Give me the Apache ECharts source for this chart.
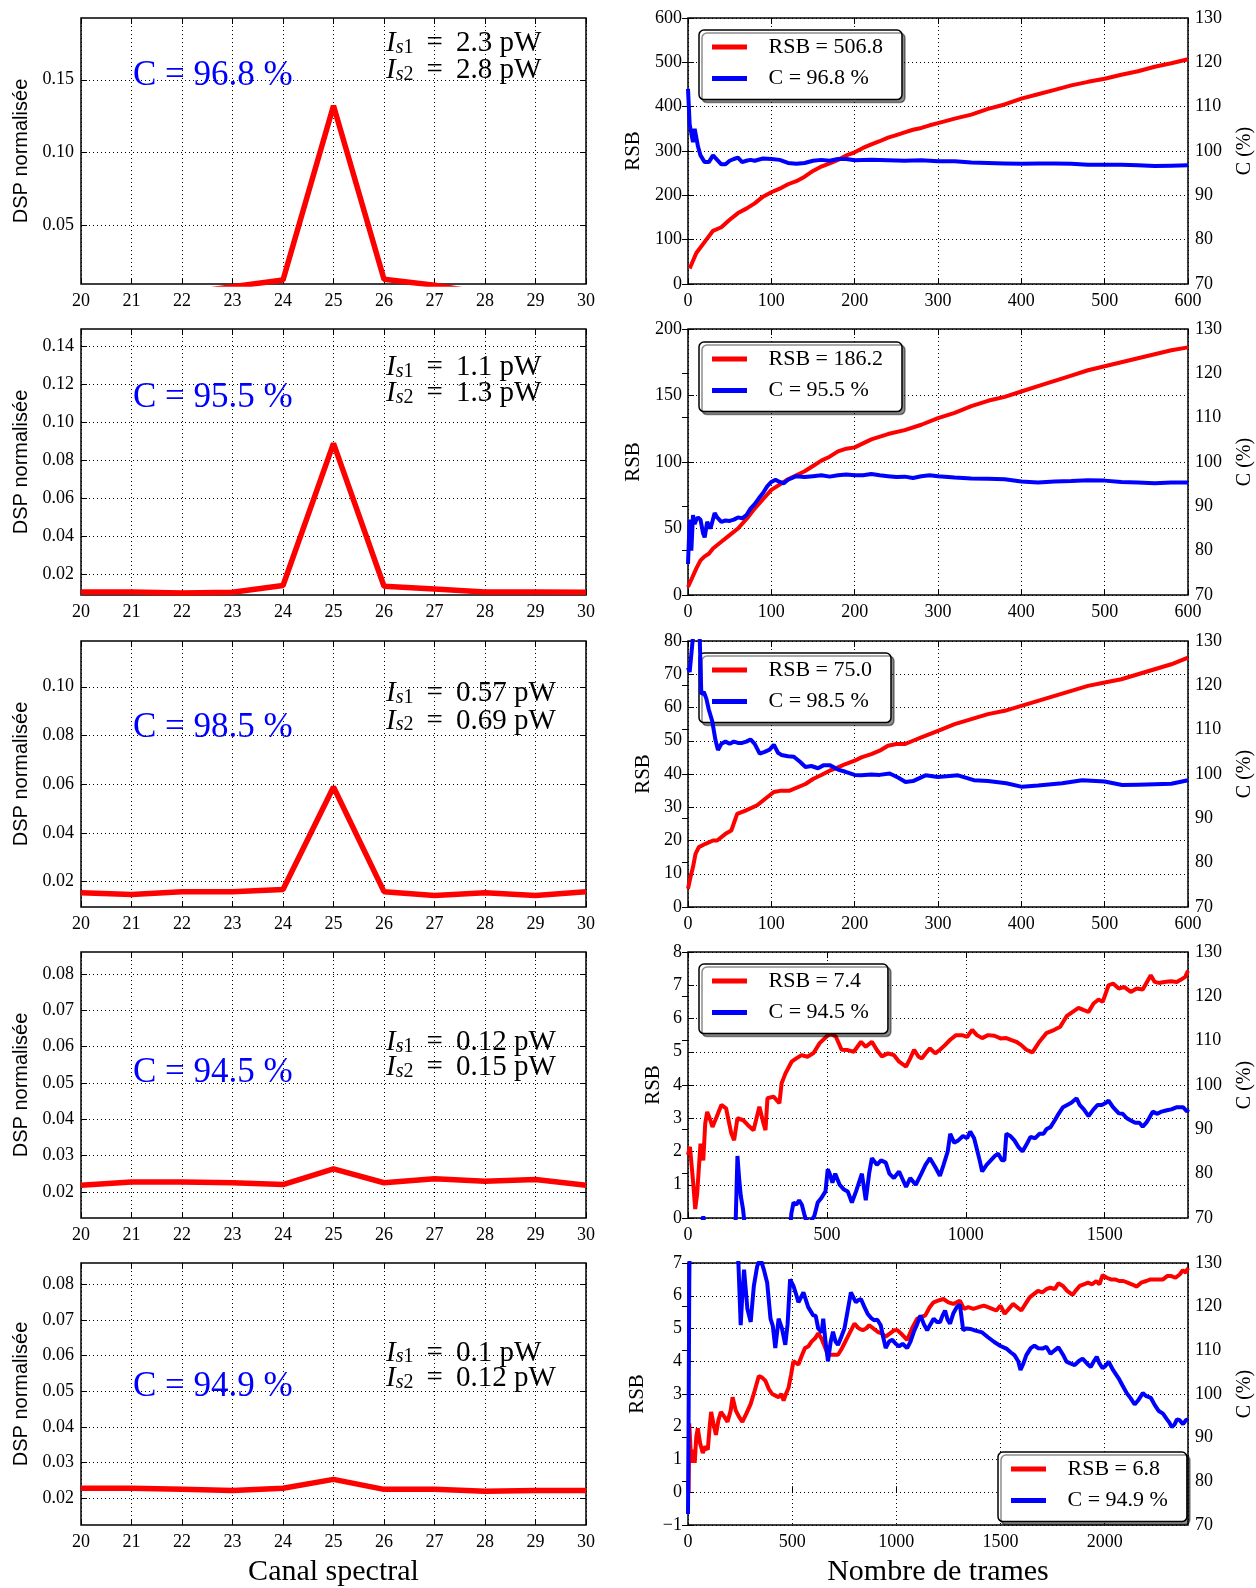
<!DOCTYPE html>
<html><head><meta charset="utf-8">
<script src="https://cdn.jsdelivr.net/npm/echarts@6/dist/echarts.min.js"></script>
<style>html,body{margin:0;padding:0;background:#fff}#c{width:1256px;height:1588px}</style>
</head><body><div id="c"></div><script>
// ---------------- DATA ----------------
const channels = [20,21,22,23,24,25,26,27,28,29,30];
const dsp1 = [0.0030,0.0031,0.0030,0.0080,0.0125,0.1322,0.0130,0.0090,0.0032,0.0030,0.0031];
const dsp2 = [0.0105,0.0105,0.0100,0.0104,0.0139,0.0888,0.0135,0.0121,0.0105,0.0105,0.0104];
const dsp3 = [0.0154,0.0146,0.0158,0.0158,0.0167,0.0588,0.0158,0.0142,0.0154,0.0142,0.0158];
const dsp4 = [0.0218,0.0227,0.0227,0.0225,0.0220,0.0263,0.0225,0.0236,0.0229,0.0234,0.0218];
const dsp5 = [0.0228,0.0228,0.0225,0.0222,0.0228,0.0253,0.0225,0.0225,0.0220,0.0222,0.0222];
const dspMin = [0.0098,0.0089,0.0095,0.0128,0.0125];
const dspMax = [0.1924,0.149,0.1188,0.086,0.086];
const dspTicks1 = [0.05,0.10,0.15];
const dspTicks2 = [0.02,0.04,0.06,0.08,0.10,0.12,0.14];
const dspTicks3 = [0.02,0.04,0.06,0.08,0.10];
const dspTicks4 = [0.02,0.03,0.04,0.05,0.06,0.07,0.08];
const dspTicks5 = [0.02,0.03,0.04,0.05,0.06,0.07,0.08];

const annotC = ['C = 96.8 %','C = 95.5 %','C = 98.5 %','C = 94.5 %','C = 94.9 %'];
const annotIs1 = ['2.3','1.1','0.57','0.12','0.1'];
const annotIs2 = ['2.8','1.3','0.69','0.15','0.12'];
const rsbLegend = ['RSB = 506.8','RSB = 186.2','RSB = 75.0','RSB = 7.4','RSB = 6.8'];
const cLegend = ['C = 96.8 %','C = 95.5 %','C = 98.5 %','C = 94.5 %','C = 94.9 %'];

const frameMax = [600,600,600,1800,2400];
const frameStep = [100,100,100,500,500];
const rsbMin = [0,0,0,0,-1];
const rsbMax = [600,200,80,8,7];
const rsbStep = [100,50,10,1,1];
const cRange = [70,130,10];

const rsb1 = [[2,35],[10,70],[20,95],[30,120],[40,128],[50,145],[60,160],[70,170],[80,182],[90,197],[100,207],[110,215],[120,225],[130,232],[140,242],[150,255],[160,265],[170,272],[180,280],[190,290],[200,297],[210,307],[220,315],[230,322],[240,330],[250,336],[260,342],[270,348],[280,352],[290,358],[300,363],[320,373],[340,382],[360,395],[380,405],[400,418],[420,428],[440,438],[460,448],[480,456],[500,463],[520,472],[540,480],[560,490],[580,498],[600,507]];
const c1 = [[0,114],[2,106],[4,104],[6,102],[8,105],[10,105],[12,101],[15,99],[20,97.5],[25,97.5],[30,99],[35,98],[40,97],[45,97],[50,97.8],[55,98.2],[60,98.5],[65,97.5],[70,97.8],[75,98],[80,97.8],[90,98.3],[100,98.2],[110,98],[120,97.3],[130,97.1],[140,97.3],[150,97.8],[160,98],[170,97.8],[180,98.2],[190,98.2],[200,97.9],[220,98],[240,97.9],[260,97.8],[280,97.9],[300,97.7],[320,97.7],[340,97.4],[360,97.3],[380,97.2],[400,97.1],[420,97.2],[440,97.2],[460,97.1],[480,96.9],[500,96.9],[520,96.9],[540,96.8],[560,96.6],[580,96.7],[600,96.8]];
const rsb2 = [[0,6],[5,13],[10,20],[15,26],[20,29],[25,31],[30,35],[40,40],[50,45],[60,50],[70,57],[80,65],[90,72],[100,79],[110,83],[120,87],[130,90],[140,93],[150,97],[160,101],[170,104],[180,108],[190,110],[200,111],[220,117],[240,121],[260,124],[280,128],[300,133],[320,137],[340,142],[360,146],[380,149],[400,153],[420,157],[440,161],[460,165],[480,169],[500,172],[520,175],[540,178],[560,181],[580,184],[600,186.2]];
const c2 = [[0,77],[2,87],[4,80],[6,88],[8,86],[10,87],[12,87.5],[15,87],[18,84],[20,83],[23,86.5],[27,85],[32,88.5],[35,87.5],[40,86.5],[45,86.8],[50,86.7],[55,87],[60,87.5],[65,87.3],[70,88],[75,89.5],[80,90.5],[85,91.8],[90,93],[95,94.5],[100,95.5],[105,96],[110,95.5],[115,95.2],[120,96],[130,96.8],[140,96.6],[150,96.8],[160,97],[170,96.7],[180,97],[190,97.2],[200,97],[210,97],[220,97.3],[230,97],[240,96.8],[250,96.6],[260,96.7],[270,96.4],[280,96.8],[290,97],[300,96.8],[320,96.5],[340,96.3],[360,96.2],[380,96.1],[400,95.6],[420,95.4],[440,95.6],[460,95.7],[480,95.9],[500,95.8],[520,95.5],[540,95.4],[560,95.2],[580,95.4],[600,95.4]];
const rsb3 = [[0,5.5],[3,9],[6,12],[9,16],[13,18],[21,19],[30,20],[35,20],[45,22],[52,23],[59,28],[69,29],[83,30.6],[95,33],[103,34.6],[112,35],[122,35],[141,37],[150,38.5],[160,39.7],[170,41],[180,42],[189,43],[200,44],[208,45],[220,46],[230,47],[240,48.5],[250,49],[260,49],[270,50],[280,51],[290,52],[300,53],[320,55],[340,56.5],[360,58],[380,59],[400,60.5],[420,62],[440,63.5],[460,65],[480,66.5],[500,67.5],[520,68.5],[540,70],[560,71.5],[580,73],[600,75]];
const c3 = [[0,124],[2,123],[4,127],[6,131],[10,131],[14,131],[16,118],[19,118.5],[22,117],[25,114.5],[29,112],[33,107.6],[36,105.4],[40,106.8],[45,107.3],[50,106.8],[55,107.3],[60,107],[65,107],[70,107.3],[75,107.8],[80,106.8],[86,104.6],[92,105],[98,105.5],[103,106.6],[108,104.8],[112,104.3],[120,104],[127,103.9],[134,102.8],[141,101.6],[148,101.8],[156,101.3],[163,102],[170,102],[180,101],[189,100.5],[200,99.8],[208,99.7],[220,99.9],[230,99.8],[242,100.1],[252,99.2],[261,98.2],[270,98.4],[285,99.7],[300,99.3],[324,99.7],[343,98.6],[360,98.4],[382,97.9],[401,97.1],[420,97.4],[449,97.9],[473,98.6],[500,98.3],[521,97.5],[540,97.6],[560,97.7],[580,97.8],[600,98.6]];
const rsb4 = [[0,1.9],[7,2.14],[19,1.03],[26,0.27],[33,0.73],[45,2.24],[55,1.73],[62,2.84],[69,3.19],[78,3.0],[88,2.74],[103,3.04],[120,3.4],[137,3.3],[156,2.54],[166,2.34],[178,3.0],[199,2.94],[215,2.8],[236,2.64],[257,3.35],[270,2.9],[279,2.64],[286,3.6],[308,3.65],[329,3.45],[337,4.05],[351,4.35],[373,4.7],[390,4.8],[409,4.9],[430,4.85],[452,4.96],[474,5.26],[499,5.46],[515,5.55],[532,5.46],[553,5.06],[575,5.05],[597,5.0],[623,5.3],[640,5.15],[662,5.3],[680,5.05],[698,4.86],[720,4.95],[741,4.9],[760,4.7],[785,4.55],[800,4.8],[814,5.06],[830,4.85],[842,4.8],[860,5.0],[871,5.1],[890,4.95],[907,5.06],[925,5.2],[944,5.36],[965,5.5],[987,5.5],[1005,5.45],[1023,5.66],[1040,5.5],[1059,5.41],[1080,5.5],[1103,5.48],[1125,5.4],[1146,5.41],[1165,5.35],[1182,5.3],[1200,5.2],[1218,5.06],[1240,4.98],[1265,5.3],[1290,5.56],[1319,5.66],[1340,5.75],[1363,6.07],[1385,6.2],[1406,6.32],[1425,6.25],[1442,6.2],[1460,6.45],[1478,6.57],[1493,6.5],[1514,7.0],[1530,7.05],[1551,6.9],[1570,6.95],[1594,6.8],[1615,6.9],[1637,6.87],[1666,7.3],[1680,7.1],[1695,7.07],[1715,7.1],[1738,7.12],[1760,7.1],[1775,7.17],[1790,7.25],[1800,7.43]];
const c4 = [[0,55],[30,60],[50,68],[55,70.4],[60,68],[100,60],[160,62],[172,70],[178,84],[184,79],[190,75],[198,72],[205,68],[215,60],[300,58],[365,65],[372,71],[380,73.5],[390,73],[400,74],[410,73],[418,71],[425,69.5],[440,69],[455,70.5],[467,73.5],[480,74.5],[495,76],[503,81],[510,80],[520,78],[530,80],[546,77.5],[560,76.5],[575,76],[590,73.5],[605,76],[626,80],[640,74],[652,80],[662,83.5],[680,82],[695,83],[712,82.5],[725,80],[741,79],[760,80.5],[785,77],[800,79],[820,77.5],[840,80],[855,82],[871,83.5],[890,81.5],[907,79.5],[920,82],[935,85],[944,89],[958,87],[973,87.5],[990,88.5],[1005,88],[1016,89.5],[1030,88],[1038,86],[1050,83],[1059,80.5],[1075,82],[1090,83],[1105,84],[1117,84.5],[1130,83],[1139,83],[1146,89],[1160,88.5],[1175,87.5],[1190,86],[1204,85],[1218,86.5],[1233,88.3],[1250,88],[1265,89],[1280,89],[1290,90],[1305,90.5],[1320,92],[1334,93.5],[1350,95],[1365,95.5],[1380,96],[1399,97],[1410,95.5],[1425,94.5],[1442,93],[1460,94.5],[1475,95.5],[1490,95.5],[1505,96],[1514,96.5],[1530,95],[1551,93.6],[1565,93.5],[1580,92.5],[1594,92],[1610,91.5],[1625,91.5],[1637,90.6],[1650,91.5],[1660,92.5],[1673,94],[1690,93.5],[1705,94],[1724,94.3],[1740,94.5],[1760,95],[1782,95],[1797,94],[1800,94.5]];
const rsb5 = [[0,0.3],[3,0.0],[6,2.1],[10,1.6],[16,0.9],[24,1.3],[32,0.9],[40,1.7],[47,1.95],[58,1.5],[71,1.2],[83,1.4],[95,1.3],[104,2.0],[111,2.45],[122,2.1],[134,1.75],[146,2.2],[158,2.45],[175,2.3],[190,2.15],[205,2.5],[214,2.9],[229,2.5],[245,2.3],[261,2.15],[280,2.4],[301,2.7],[320,3.1],[340,3.55],[356,3.5],[372,3.4],[388,3.15],[404,3.0],[420,2.95],[435,2.9],[448,3.0],[459,2.8],[470,3.0],[483,3.2],[495,3.6],[506,4.0],[518,3.95],[530,3.9],[545,4.15],[561,4.4],[577,4.45],[593,4.6],[610,4.7],[625,4.85],[640,4.7],[656,4.45],[672,4.2],[695,4.2],[720,4.2],[735,4.35],[751,4.55],[775,4.85],[799,5.15],[820,5.0],[839,4.95],[855,5.0],[870,5.1],[890,5.0],[910,4.9],[930,4.85],[949,4.75],[970,4.85],[990,4.95],[1005,4.95],[1030,4.8],[1052,4.65],[1075,5.0],[1100,5.3],[1120,5.35],[1139,5.4],[1160,5.65],[1179,5.8],[1200,5.85],[1226,5.9],[1250,5.8],[1274,5.75],[1290,5.8],[1305,5.85],[1325,5.6],[1345,5.65],[1370,5.6],[1395,5.65],[1420,5.7],[1440,5.65],[1460,5.6],[1480,5.55],[1500,5.7],[1520,5.45],[1540,5.6],[1560,5.75],[1580,5.65],[1600,5.55],[1620,5.75],[1640,5.95],[1660,6.05],[1680,6.15],[1700,6.1],[1720,6.2],[1740,6.25],[1760,6.2],[1778,6.38],[1800,6.3],[1820,6.15],[1846,6.03],[1860,6.15],[1880,6.3],[1900,6.35],[1920,6.4],[1940,6.35],[1960,6.45],[1975,6.35],[1990,6.63],[2010,6.55],[2030,6.5],[2050,6.5],[2070,6.45],[2090,6.45],[2110,6.4],[2130,6.35],[2154,6.28],[2175,6.4],[2200,6.45],[2220,6.5],[2240,6.5],[2260,6.5],[2280,6.5],[2300,6.6],[2320,6.6],[2340,6.55],[2360,6.65],[2375,6.78],[2390,6.7],[2400,6.85]];
const c5 = [[0,72.5],[3,95],[6,125],[8,135],[60,140],[150,142],[230,136],[242,130],[253,115.75],[260,122],[269,128.5],[285,119.5],[301,116.5],[316,124.7],[332,129.25],[348,131],[364,128.5],[380,125.5],[396,117.25],[407,115.6],[419,110.5],[435,117.25],[451,115],[467,111.25],[478,116],[490,126.25],[506,124.75],[518,123],[530,121],[554,123.25],[577,119.9],[601,118],[613,117.9],[625,115],[642,114.1],[649,117.25],[660,112],[672,107.5],[685,112],[696,114.25],[708,112],[720,111.25],[735,113],[751,115],[766,119],[782,123.25],[806,121],[818,121.5],[830,121.75],[846,120],[862,118.4],[877,117.5],[893,116.9],[909,117],[925,115.75],[937,113],[949,110.5],[965,112],[981,112.4],[997,111.5],[1013,110.9],[1030,111.5],[1052,110.5],[1068,112],[1084,114.25],[1100,116],[1116,118],[1132,116],[1148,114.6],[1164,116],[1179,117.25],[1195,116.5],[1210,116.5],[1222,118],[1234,119.1],[1246,117],[1258,116.1],[1274,118.5],[1290,119.9],[1305,120.5],[1321,114.6],[1335,115],[1355,114.9],[1380,114.5],[1412,114.1],[1440,113],[1470,111.9],[1500,111],[1528,110.4],[1550,109.5],[1567,108.9],[1585,107.5],[1596,105.5],[1610,107],[1624,108.9],[1645,110.5],[1663,111.1],[1680,110.5],[1701,110.4],[1720,110.8],[1740,109.2],[1760,110],[1778,110.7],[1800,109],[1817,107.4],[1835,107],[1856,106.6],[1875,107.5],[1894,108.1],[1915,107],[1933,106.2],[1948,107.5],[1962,108.5],[1975,107],[1990,105.9],[2005,106.5],[2019,107.4],[2040,105.5],[2067,103.6],[2085,102],[2106,100.2],[2125,99],[2144,97.6],[2160,98.5],[2183,100.2],[2200,99.5],[2222,99.1],[2240,97.5],[2260,96.1],[2280,95.5],[2299,94.2],[2310,93.5],[2322,92.4],[2335,93],[2347,94.2],[2360,94],[2376,93.1],[2390,94],[2400,94.2]];

// ---------------- LAYOUT ----------------
const dspAll = [dsp1,dsp2,dsp3,dsp4,dsp5];
const dspTicksAll = [dspTicks1,dspTicks2,dspTicks3,dspTicks4,dspTicks5];
const rsbAll = [rsb1,rsb2,rsb3,rsb4,rsb5];
const cAll = [c1,c2,c3,c4,c5];

const SERIF = 'Liberation Serif';
const rowTops = [18, 329, 641, 952, 1263];
const ROW_H = 266;
const LEFT_X = 81, RIGHT_X = 688, PLOT_W = 505;
const cTextY = [76, 398, 728, 1073, 1387];
const iTextY = [[43.5,70.5],[367.5,393.5],[693.5,721],[1042.5,1067.5],[1353,1378.5]];
const legendPos = [[699,30],[699,342],[699,653],[699,964],[998,1452]];
const rsbNameGap = [44,44,34,24,40];

const grid = [], xAxis = [], yAxis = [], series = [], legend = [], graphic = [];
const tick = () => ({ show: true, inside: true, length: 6, lineStyle: { color: '#000', width: 1 } });
const gridLine = { show: true, lineStyle: { color: '#000', width: 1, type: [1, 3] } };
const lbl = { color: '#000', fontFamily: SERIF, fontSize: 18 };
const minusFmt = v => (v < 0 ? '\u2212' + Math.abs(v) : String(v));
const plainFmt = v => String(v);

function addGrid(left, top) {
  grid.push({ left, top, width: PLOT_W, height: ROW_H, show: true, borderColor: '#000', borderWidth: 1.5, backgroundColor: '#fff' });
  return grid.length - 1;
}

for (let r = 0; r < 5; r++) {
  const top = rowTops[r];
  // ---- left spectrum plot ----
  const gL = addGrid(LEFT_X, top);
  const xb = xAxis.length;
  xAxis.push({ type: 'value', gridIndex: gL, min: 20, max: 30, interval: 1, axisLine: { show: false },
    axisTick: tick(), axisLabel: { ...lbl, margin: 8, formatter: plainFmt }, splitLine: gridLine,
    name: r === 4 ? 'Canal spectral' : '', nameLocation: 'middle', nameGap: 32,
    nameTextStyle: { fontFamily: SERIF, fontSize: 30, color: '#000' } });
  xAxis.push({ type: 'value', gridIndex: gL, position: 'top', min: 20, max: 30, interval: 1, axisLine: { show: false },
    axisTick: tick(), axisLabel: { show: false }, splitLine: { show: false } });
  const yb = yAxis.length;
  yAxis.push({ type: 'value', gridIndex: gL, min: dspMin[r], max: dspMax[r], axisLine: { show: false },
    axisTick: { ...tick(), customValues: dspTicksAll[r] },
    axisLabel: { ...lbl, customValues: dspTicksAll[r], formatter: v => v.toFixed(2), margin: 7 },
    splitLine: gridLine, name: 'DSP normalisée', nameLocation: 'middle', nameGap: 50,
    nameTextStyle: { fontFamily: 'Liberation Sans', fontSize: 20, color: '#000' } });
  yAxis.push({ type: 'value', gridIndex: gL, position: 'right', min: dspMin[r], max: dspMax[r], axisLine: { show: false },
    axisTick: { ...tick(), customValues: dspTicksAll[r] }, axisLabel: { show: false, customValues: dspTicksAll[r] }, splitLine: { show: false } });
  series.push({ type: 'line', xAxisIndex: xb, yAxisIndex: yb, data: channels.map((c, i) => [c, dspAll[r][i]]),
    showSymbol: false, color: '#ff0000', lineStyle: { color: '#ff0000', width: 5.5 }, silent: true, z: 3 });

  graphic.push({ type: 'text', x: 133, y: cTextY[r], z: 10, silent: true,
    style: { text: annotC[r], fill: '#0000ff', fontFamily: SERIF, fontSize: 35, verticalAlign: 'middle', align: 'left' } });
  const rich = {
    i: { fontFamily: SERIF, fontStyle: 'italic', fontSize: 29, lineHeight: 28, fill: '#000', color: '#000' },
    si: { fontFamily: SERIF, fontStyle: 'italic', fontSize: 20, lineHeight: 14, verticalAlign: 'bottom', fill: '#000', color: '#000' },
    sn: { fontFamily: SERIF, fontSize: 20, lineHeight: 14, verticalAlign: 'bottom', fill: '#000', color: '#000' },
    n: { fontFamily: SERIF, fontSize: 29, lineHeight: 28, fill: '#000', color: '#000' }
  };
  [[1, annotIs1[r]], [2, annotIs2[r]]].forEach(([k, val], j) => {
    graphic.push({ type: 'text', x: 386, y: iTextY[r][j], z: 10, silent: true,
      style: { text: '{i|I}{si|s}{sn|' + k + '}{n| \u2009=\u2009 ' + val + ' pW}', rich, fill: '#000', verticalAlign: 'middle', align: 'left' } });
  });

  // ---- right time-series plot ----
  const gR = addGrid(RIGHT_X, top);
  const xr = xAxis.length;
  xAxis.push({ type: 'value', gridIndex: gR, min: 0, max: frameMax[r], interval: frameStep[r], axisLine: { show: false },
    axisTick: tick(), axisLabel: { ...lbl, margin: 8, formatter: plainFmt, showMaxLabel: frameMax[r] % frameStep[r] === 0 }, splitLine: gridLine,
    name: r === 4 ? 'Nombre de trames' : '', nameLocation: 'middle', nameGap: 32,
    nameTextStyle: { fontFamily: SERIF, fontSize: 30, color: '#000' } });
  xAxis.push({ type: 'value', gridIndex: gR, position: 'top', min: 0, max: frameMax[r], interval: frameStep[r], axisLine: { show: false },
    axisTick: tick(), axisLabel: { show: false }, splitLine: { show: false } });
  const yr = yAxis.length;
  yAxis.push({ type: 'value', gridIndex: gR, position: 'left', min: rsbMin[r], max: rsbMax[r], interval: rsbStep[r], axisLine: { show: false },
    axisTick: tick(), axisLabel: { ...lbl, margin: 6, formatter: minusFmt }, splitLine: gridLine,
    name: 'RSB', nameLocation: 'middle', nameGap: rsbNameGap[r],
    nameTextStyle: { fontFamily: SERIF, fontSize: 21, color: '#000' } });
  yAxis.push({ type: 'value', gridIndex: gR, position: 'right', min: cRange[0], max: cRange[1], interval: cRange[2], axisLine: { show: false },
    axisTick: tick(), axisLabel: { ...lbl, margin: 7 }, splitLine: { show: false },
    name: 'C (%)', nameLocation: 'middle', nameGap: 47,
    nameTextStyle: { fontFamily: SERIF, fontSize: 20, color: '#000' } });
  series.push({ type: 'line', name: rsbLegend[r], xAxisIndex: xr, yAxisIndex: yr, data: rsbAll[r],
    showSymbol: false, color: '#ff0000', lineStyle: { color: '#ff0000', width: 4 }, silent: true, z: 2 });
  series.push({ type: 'line', name: cLegend[r], xAxisIndex: xr, yAxisIndex: yr + 1, data: cAll[r],
    showSymbol: false, color: '#0000ff', lineStyle: { color: '#0000ff', width: 4 }, silent: true, z: 5 });
  legend.push({ left: legendPos[r][0], top: legendPos[r][1], orient: 'vertical', data: [rsbLegend[r], cLegend[r]],
    icon: 'rect', itemWidth: 35, itemHeight: 5, itemGap: 9.6, padding: [6, 19, 10, 13], selectedMode: false,
    backgroundColor: '#fff', borderColor: '#000', borderWidth: 1.5, borderRadius: 5,
    shadowColor: 'rgba(0,0,0,0.45)', shadowOffsetX: 3, shadowOffsetY: 3, shadowBlur: 0, z: 4,
    formatter: n => '   ' + n, textStyle: { fontFamily: SERIF, fontSize: 22, color: '#000' } });
}

const chart = echarts.init(document.getElementById('c'), null, { renderer: 'canvas' });
chart.setOption({ animation: false, backgroundColor: '#fff', grid, xAxis, yAxis, series, legend, graphic });
</script></body></html>
